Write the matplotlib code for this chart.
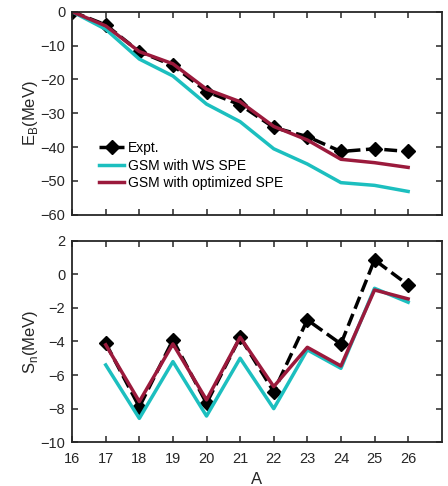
import matplotlib
matplotlib.use("Agg")
import matplotlib.pyplot as plt

plt.rcParams['font.family'] = ['Liberation Sans', 'DejaVu Sans']

A = [16, 17, 18, 19, 20, 21, 22, 23, 24, 25, 26]
ebExpt = [0, -3.9, -11.8, -15.9, -23.6, -27.5, -34.2, -36.9, -41.3, -40.5, -41.3]
ebWS = [0, -5.2, -14.0, -19.0, -27.3, -32.5, -40.5, -45.0, -50.5, -51.3, -53.1]
ebOpt = [0, -4.2, -11.8, -15.4, -22.9, -26.6, -33.9, -37.9, -43.6, -44.6, -46.0]

A_sn = [17, 18, 19, 20, 21, 22, 23, 24, 25, 26]
snExpt = [-4.11, -7.9, -3.91, -7.68, -3.75, -6.99, -2.72, -4.15, 0.85, -0.64]
snWS = [-5.4, -8.58, -5.2, -8.44, -5.0, -8.0, -4.5, -5.6, -0.84, -1.67]
snOpt = [-4.2, -7.58, -4.15, -7.48, -3.75, -6.69, -4.35, -5.46, -0.94, -1.47]

cyan = "#1cbfbf"
red = "#9b1a3c"
axcol = "#262626"

fig = plt.figure(figsize=(4.48, 4.86), dpi=100)
ax1 = fig.add_axes([0.161, 0.558, 0.825, 0.418])
ax2 = fig.add_axes([0.161, 0.090, 0.825, 0.415])

ax1.plot(A, ebExpt, color="black", linestyle="--", linewidth=2.5, marker="D",
         markersize=7, label="Expt.")
ax1.plot(A, ebWS, color=cyan, linewidth=2.5, label="GSM with WS SPE")
ax1.plot(A, ebOpt, color=red, linewidth=2.5, label="GSM with optimized SPE")

ax2.plot(A_sn, snExpt, color="black", linestyle="--", linewidth=2.5, marker="D",
         markersize=7)
ax2.plot(A_sn, snWS, color=cyan, linewidth=2.5)
ax2.plot(A_sn, snOpt, color=red, linewidth=2.5)

for ax in (ax1, ax2):
    ax.set_xlim(16, 27)
    ax.set_xticks(range(16, 27))
    ax.tick_params(direction="in", top=True, right=True, labelsize=10.5,
                   length=4, width=1.1, color=axcol, labelcolor=axcol)
    ax.tick_params(axis="x", pad=7)
    ax.tick_params(axis="y", pad=5)
    for s in ax.spines.values():
        s.set_linewidth(1.3)
        s.set_color(axcol)

ax1.set_ylim(-60, 0)
ax1.set_yticks(range(-60, 1, 10))
ax1.tick_params(labelbottom=False)
ax1.set_ylabel("E$_\\mathregular{B}$(MeV)", fontsize=12, color=axcol, labelpad=0)
ax1.legend(loc="lower left", bbox_to_anchor=(0.04, 0.06), frameon=False,
           fontsize=10, handlelength=1.8, handletextpad=0.25, labelspacing=0.25)

ax2.set_ylim(-10, 2)
ax2.set_yticks(range(-10, 3, 2))
ax2.set_ylabel("S$_\\mathregular{n}$(MeV)", fontsize=12, color=axcol, labelpad=0)
ax2.set_xlabel("A", fontsize=12, color=axcol, labelpad=4)

fig.savefig("out.png", dpi=100)
